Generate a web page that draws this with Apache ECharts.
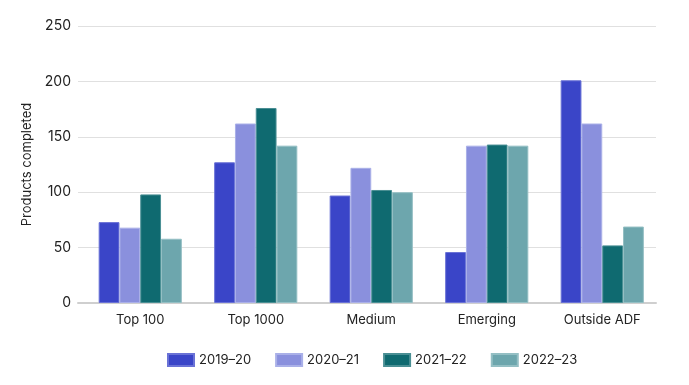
<!DOCTYPE html>
<html><head><meta charset="utf-8">
<script src="https://cdn.jsdelivr.net/npm/echarts@6/dist/echarts.min.js"></script>
<style>html,body{margin:0;padding:0;background:#fff}#c{width:689px;height:385px}</style>
</head><body><div id="c"></div>
<script>
const categories = ['Top 100', 'Top 1000', 'Medium', 'Emerging', 'Outside ADF'];
const seriesNames = ['2019–20', '2020–21', '2021–22', '2022–23'];
const v2019 = [73, 127, 97, 46, 201];
const v2020 = [68, 162, 122, 142, 162];
const v2021 = [98, 176, 102, 143, 52];
const v2022 = [58, 142, 100, 142, 69];
const yTicks = [0, 50, 100, 150, 200, 250];
const colors = ['#3a45c8', '#8a90dd', '#0f6a70', '#6da6ad'];
const borders = ['#6a72d6', '#aab0e8', '#4a8f94', '#94bfc4'];
const values = [v2019, v2020, v2021, v2022];

const chart = echarts.init(document.getElementById('c'), null, {renderer: 'canvas'});
const font = 'Inter, "Noto Sans", sans-serif';
const yMin = yTicks[0], yMax = yTicks[yTicks.length - 1], yStep = yTicks[1] - yTicks[0];
chart.setOption({
  animation: false,
  textStyle: {fontFamily: font},
  grid: [
    {left: 78, right: 33, top: 26, bottom: 82, containLabel: false},
    {left: 82.5, right: 29, top: 26, bottom: 82, containLabel: false}
  ],
  legend: {
    top: 348, left: 162,
    itemWidth: 26, itemHeight: 12, itemGap: 24,
    icon: 'rect',
    textStyle: {fontFamily: font, fontSize: 13, color: '#222'},
    data: seriesNames
  },
  xAxis: [
    {
      gridIndex: 0, type: 'category', data: categories,
      axisLine: {lineStyle: {color: '#cfcfcf', width: 2}},
      axisTick: {show: false}, axisLabel: {show: false}
    },
    {
      gridIndex: 1, type: 'category', data: categories,
      axisLine: {show: false}, axisTick: {show: false},
      axisLabel: {fontFamily: font, fontSize: 13, color: '#222', margin: 11}
    }
  ],
  yAxis: [
    {
      gridIndex: 0, type: 'value', min: yMin, max: yMax, interval: yStep,
      name: 'Products completed', nameLocation: 'middle', nameGap: 44, nameRotate: 90,
      nameTextStyle: {fontFamily: font, fontSize: 13, color: '#222'},
      axisLine: {show: false}, axisTick: {show: false},
      axisLabel: {fontFamily: font, fontSize: 14, color: '#222', margin: 7},
      splitLine: {lineStyle: {color: '#e0e0e0', width: 1}}
    },
    {
      gridIndex: 1, type: 'value', min: yMin, max: yMax, interval: yStep,
      show: false, splitLine: {show: false}
    }
  ],
  series: seriesNames.map((n, i) => ({
    name: n, type: 'bar', data: values[i], xAxisIndex: 1, yAxisIndex: 1,
    barGap: '0%', barCategoryGap: '28%',
    itemStyle: {color: colors[i], borderColor: borders[i], borderWidth: 1}
  }))
});
</script></body></html>
